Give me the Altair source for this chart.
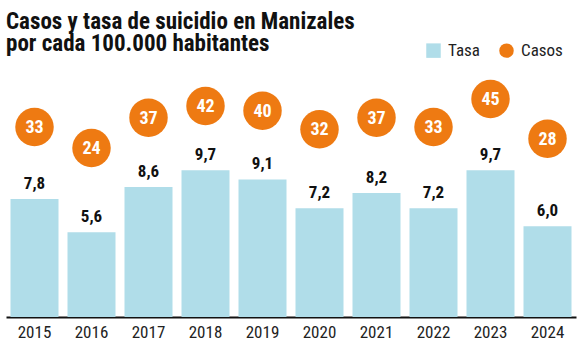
import altair as alt
import pandas as pd

years = ["2015", "2016", "2017", "2018", "2019", "2020", "2021", "2022", "2023", "2024"]
tasa = [7.8, 5.6, 8.6, 9.7, 9.1, 7.2, 8.2, 7.2, 9.7, 6.0]
casos = [33, 24, 37, 42, 40, 32, 37, 33, 45, 28]
series = ["Tasa", "Casos"]
colors = ["#b0dde9", "#ee7a12"]
title_lines = ["Casos y tasa de suicidio en Manizales", "por cada 100.000 habitantes"]

FONT = "Liberation Sans Narrow, Roboto Condensed, DejaVu Sans Condensed, Arial Narrow, sans-serif"

df = pd.DataFrame({"year": years, "tasa": tasa, "casos": casos})

xenc = alt.X(
    "year:O",
    scale=alt.Scale(paddingInner=9 / 57, paddingOuter=4.5 / 57),
    axis=alt.Axis(
        title=None, labelAngle=0, ticks=False, domainColor="#111111", domainWidth=2,
        labelFontSize=17, labelColor="#222222", labelFont=FONT, labelPadding=7,
    ),
)

color_scale = alt.Scale(domain=series, range=colors)
shape_scale = alt.Scale(domain=series, range=["square", "circle"])
legend = alt.Legend(
    title=None, orient="none", legendX=419, legendY=-18, direction="horizontal",
    labelFont=FONT, labelFontSize=17, labelColor="#222222", symbolSize=210,
    symbolOpacity=1, columnPadding=16, labelOffset=6, padding=0,
)

base = alt.Chart(df).encode(x=xenc)

bars = base.transform_calculate(serie="'Tasa'").mark_bar().encode(
    y=alt.Y("tasa:Q", scale=alt.Scale(domain=[0, 17.0]), axis=None),
    color=alt.Color("serie:N", scale=color_scale, legend=legend),
)

bar_text = base.transform_calculate(
    lbl="replace(format(datum.tasa, '.1f'), '.', ',')"
).mark_text(
    baseline="bottom", dy=-6, font=FONT, fontSize=17, fontWeight="bold", color="#111111"
).encode(
    y=alt.Y("tasa:Q", scale=alt.Scale(domain=[0, 17.0]), axis=None),
    text="lbl:N",
)

points = base.transform_calculate(serie="'Casos'").mark_point(
    filled=True, size=1480, opacity=1
).encode(
    y=alt.Y("casos:Q", scale=alt.Scale(domain=[-48.4, 61.7]), axis=None),
    color=alt.Color("serie:N", scale=color_scale, legend=legend),
    shape=alt.Shape("serie:N", scale=shape_scale, legend=legend),
)

point_text = base.mark_text(
    baseline="middle", font=FONT, fontSize=18, fontWeight="bold", color="white", dy=1
).encode(
    y=alt.Y("casos:Q", scale=alt.Scale(domain=[-48.4, 61.7]), axis=None),
    text="casos:Q",
)

chart = alt.layer(bars, bar_text, points, point_text).resolve_scale(
    y="independent"
).properties(
    width=570,
    height=257,
    autosize=alt.AutoSizeParams(type="none"),
    padding={"left": 6, "top": 60, "right": 5, "bottom": 34},
    title=alt.TitleParams(
        title_lines, anchor="start", font=FONT, fontSize=23, fontWeight="bold",
        color="#111111", lineHeight=22, offset=8, dy=22, frame="group",
    ),
).configure_view(stroke=None)

chart.save("out.html", embed_options={"renderer": "svg", "actions": False})
